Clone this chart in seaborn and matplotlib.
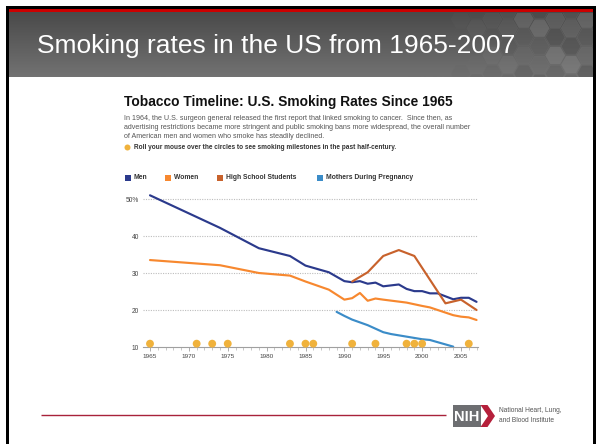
import matplotlib
matplotlib.use("Agg")
import matplotlib.pyplot as plt
import seaborn as sns
import pandas as pd
import numpy as np
from matplotlib.patches import Rectangle, RegularPolygon, Polygon, Circle
from matplotlib.ticker import MultipleLocator
from matplotlib.colors import LinearSegmentedColormap

# ---------------- data ----------------
men_years = [1965, 1974, 1979, 1983, 1985, 1988, 1990, 1991, 1992, 1993, 1994, 1995,
             1997, 1998, 1999, 2000, 2001, 2002, 2004, 2005, 2006, 2007]
men_vals = [51.0, 42.2, 36.7, 34.6, 32.0, 30.2, 27.8, 27.5, 27.8, 27.1, 27.4, 26.4,
            26.9, 25.7, 25.1, 25.1, 24.5, 24.5, 22.9, 23.3, 23.3, 22.2]

women_years = [1965, 1974, 1979, 1983, 1985, 1988, 1990, 1991, 1992, 1993, 1994, 1995,
               1998, 2000, 2001, 2004, 2005, 2006, 2007]
women_vals = [33.5, 32.1, 30.0, 29.3, 27.7, 25.5, 22.8, 23.2, 24.6, 22.5, 23.1, 22.8,
              22.0, 21.1, 20.7, 18.6, 18.2, 18.0, 17.3]

hs_years = [1991, 1993, 1995, 1997, 1999, 2003, 2005, 2007]
hs_vals = [27.7, 30.2, 34.6, 36.2, 34.6, 21.8, 22.8, 20.0]

mothers_years = [1989, 1990, 1991, 1993, 1995, 1996, 1998, 2000, 2001, 2004]
mothers_vals = [19.5, 18.4, 17.4, 15.9, 14.0, 13.5, 12.8, 12.1, 11.9, 10.1]

milestone_years = [1965, 1971, 1973, 1975, 1983, 1985, 1986, 1991, 1994, 1998, 1999, 2000, 2006]
milestone_level = 10.9

series_names = ["Men", "Women", "High School Students", "Mothers During Pregnancy"]
series_colors = ["#2b3a8c", "#f7882f", "#c8622c", "#3b8cc8"]

y_ticks = [10, 20, 30, 40, 50]
y_ticklabels = ["10", "20", "30", "40", "50%"]
x_ticks = [1965, 1970, 1975, 1980, 1985, 1990, 1995, 2000, 2005]

slide_title = "Smoking rates in the US from 1965-2007"
chart_title = "Tobacco Timeline: U.S. Smoking Rates Since 1965"
intro_lines = [
    "In 1964, the U.S. surgeon general released the first report that linked smoking to cancer.  Since then, as",
    "advertising restrictions became more stringent and public smoking bans more widespread, the overall number",
    "of American men and women who smoke has steadily declined.",
]
bullet_text = "Roll your mouse over the circles to see smoking milestones in the past half-century."

frames = []
for name, yrs, vals in [("Men", men_years, men_vals), ("Women", women_years, women_vals),
                        ("High School Students", hs_years, hs_vals),
                        ("Mothers During Pregnancy", mothers_years, mothers_vals)]:
    frames.append(pd.DataFrame({"year": yrs, "rate": vals, "group": name}))
df = pd.concat(frames, ignore_index=True)
ms = pd.DataFrame({"year": milestone_years, "rate": [milestone_level] * len(milestone_years)})

# ---------------- figure ----------------
sns.set_theme(style="white")
plt.rcParams['font.family'] = ['Liberation Sans', 'DejaVu Sans']

W, H = 596, 444
fig = plt.figure(figsize=(W / 100, H / 100), dpi=100)
fig.patch.set_facecolor('white')

bg = fig.add_axes([0, 0, 1, 1], zorder=0)
bg.set_xlim(0, W)
bg.set_ylim(H, 0)
bg.axis('off')

# frame
bg.add_patch(Rectangle((6, 6), W - 6, H, facecolor='black', edgecolor='none'))
bg.add_patch(Rectangle((9, 9), 584, H, facecolor='white', edgecolor='none'))
# red strip
bg.add_patch(Rectangle((9, 9), 584, 4.2, facecolor='#cc0000', edgecolor='none'))
# header gradient
grad = np.linspace(0, 1, 64).reshape(-1, 1)
cmap = LinearSegmentedColormap.from_list('hdr', ['#4a4a4a', '#727272'])
bg.imshow(grad, extent=[9, 593, 77.5, 13], aspect='auto', cmap=cmap, zorder=1)
hdr_clip = Rectangle((9, 13), 584, 64.5, transform=bg.transData, facecolor='none', edgecolor='none')
bg.add_patch(hdr_clip)
# hexagon decoration
r = 10.5
shades = ['#5a5a5a', '#6e6e6e', '#4e4e4e', '#808080', '#5f5f5f', '#707070', '#545454', '#888888']
for ci in range(11):
    cx = 445 + ci * 1.5 * r
    for ri in range(6):
        cy = 10 + ri * np.sqrt(3) * r + (ci % 2) * np.sqrt(3) / 2 * r
        fade = min(1.0, max(0.0, (cx - 445) / 100))
        col = shades[(ci * 3 + ri * 5) % len(shades)]
        hp = RegularPolygon((cx, cy), 6, radius=r * 0.93, orientation=np.pi / 6,
                            facecolor=col, edgecolor='#7a7a7a', linewidth=0.3,
                            alpha=0.42 * fade, zorder=2)
        bg.add_patch(hp)
        hp.set_clip_path(hdr_clip)

renderer = fig.canvas.get_renderer()


def fit_text(x, y, s, width_px, **kw):
    t = bg.text(x, y, s, **kw)
    bb = t.get_window_extent(renderer)
    t.set_fontsize(t.get_fontsize() * width_px / bb.width)
    return t


fit_text(37, 45.5, slide_title, 477, color='white', fontsize=20, va='center', ha='left', zorder=5)

fit_text(124, 101.5, chart_title, 329, color='#111111', fontsize=9, fontweight='bold',
         va='center', ha='left')
t2 = fit_text(124, 127.5, intro_lines[1], 355, color='#555555', fontsize=5, va='center', ha='left')
fs_body = t2.get_fontsize()
bg.text(124, 118.5, intro_lines[0], color='#555555', fontsize=fs_body, va='center', ha='left')
bg.text(124, 136.5, intro_lines[2], color='#555555', fontsize=fs_body, va='center', ha='left')

bg.add_patch(Circle((127.5, 147.5), 3.0, facecolor='#f0b23c', edgecolor='none'))
fit_text(133.5, 147.5, bullet_text, 266, color='#333333', fontsize=5, fontweight='bold',
         va='center', ha='left')

# legend
leg_sq_x = [125, 165, 217, 317]
tl = fit_text(326, 177.5, series_names[3], 87, color='#333333', fontsize=5, fontweight='bold',
              va='center', ha='left')
fs_leg = tl.get_fontsize()
for i, (name, col) in enumerate(zip(series_names, series_colors)):
    bg.add_patch(Rectangle((leg_sq_x[i], 174.5), 6, 6, facecolor=col, edgecolor='none'))
    if i < 3:
        bg.text(leg_sq_x[i] + 9, 177.5, name, color='#333333', fontsize=fs_leg,
                fontweight='bold', va='center', ha='left')

# footer
bg.plot([41, 446], [415, 415], color='#a8223a', lw=1.0, solid_capstyle='butt')
bg.add_patch(Rectangle((453, 405), 28, 22, facecolor='#6d6e71', edgecolor='none'))
bg.add_patch(Polygon([(480.5, 405), (487.5, 405), (495, 416), (487.5, 427), (480.5, 427), (488, 416)],
                     closed=True, facecolor='#b5203b', edgecolor='none'))
bg.text(467, 416.5, "NIH", color='white', fontsize=10.5, fontweight='bold', va='center', ha='center')
bg.text(499, 410.5, "National Heart, Lung,", color='#555555', fontsize=4.8, va='center', ha='left')
bg.text(499, 420, "and Blood Institute", color='#555555', fontsize=4.8, va='center', ha='left')

# ---------------- chart ----------------
x0, x1 = 143, 478
ypx10, ypx50 = 347, 199
ppu = (ypx10 - ypx50) / 40.0
ytop = 52
ax = fig.add_axes([x0 / W, 1 - ypx10 / H, (x1 - x0) / W, (ytop - 10) * ppu / H], zorder=3)
ax.patch.set_alpha(0)
ppy = 7.775
ax.set_xlim(1965 - (150 - x0) / ppy, 1965 + (x1 - 150) / ppy)
ax.set_ylim(10, ytop)

sns.lineplot(data=df, x="year", y="rate", hue="group", hue_order=series_names,
             palette=series_colors, linewidth=1.55, legend=False, ax=ax, zorder=3)
sns.scatterplot(data=ms, x="year", y="rate", color="#f0b23c", s=32, edgecolor='none',
                linewidth=0, ax=ax, zorder=4, clip_on=False)

ax.set_xlabel("")
ax.set_ylabel("")
for side in ['left', 'top', 'right']:
    ax.spines[side].set_visible(False)
ax.spines['bottom'].set_color('#a0a0a0')
ax.spines['bottom'].set_linewidth(0.8)

ax.set_yticks(y_ticks)
ax.set_yticklabels(y_ticklabels)
ax.set_xticks(x_ticks)
ax.set_xticklabels([str(v) for v in x_ticks])
ax.xaxis.set_minor_locator(MultipleLocator(1))
ax.tick_params(axis='x', which='major', bottom=True, direction='out', length=3, width=0.6,
               color='#a0a0a0', labelsize=4.6, labelcolor='#444444', pad=2)
ax.tick_params(axis='x', which='minor', bottom=True, direction='out', length=2, width=0.5,
               color='#b0b0b0')
ax.tick_params(axis='y', length=0, labelsize=4.8, labelcolor='#444444', pad=3)
ax.grid(False)
for v in y_ticks[1:]:
    ax.axhline(v, color='#bdbdbd', lw=0.8, linestyle=(0, (1, 1.2)), zorder=1)

fig.savefig("out.png", dpi=100, facecolor='white')
